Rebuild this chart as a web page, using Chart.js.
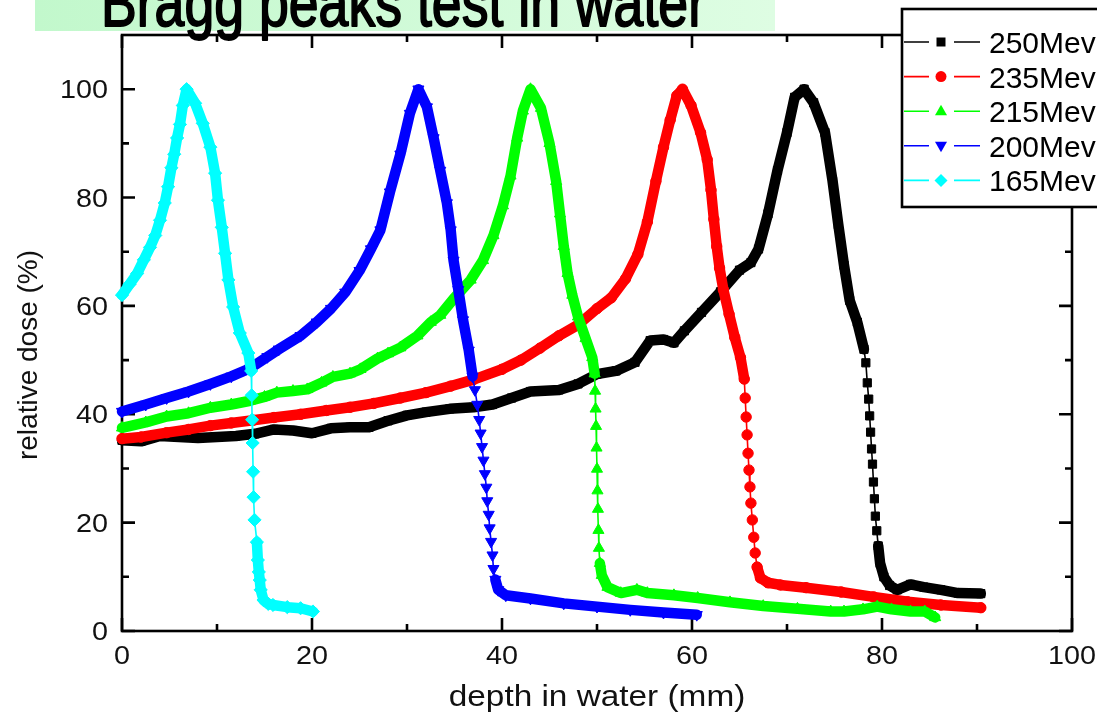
<!DOCTYPE html>
<html>
<head>
<meta charset="utf-8">
<title>Bragg peaks test in water</title>
<script src="https://cdn.jsdelivr.net/npm/chart.js@4/dist/chart.umd.min.js"></script>
<style>
  html, body { margin: 0; padding: 0; background: #fff; overflow: hidden; }
  #wrap { width: 1097px; height: 716px; }
</style>
</head>
<body>
<div id="wrap"><canvas id="c" width="1097" height="716"></canvas></div>
<script>
// Depth-dose curves (depth in mm, relative dose in %)
const depth250 = [0, 2, 4, 6, 8, 10, 12, 14, 16, 18, 20, 22, 24, 26, 28, 30, 32, 34.5, 37, 39,
  41, 43, 46, 48, 50, 52, 54, 55.6, 57, 58.1, 59.2, 61, 63, 65, 66.2, 67, 68, 69, 70, 70.8,
  71.8, 72.8, 74, 74.8, 75.4, 76, 76.6, 77.4, 78.1, 78.3, 78.45, 78.6, 78.7, 78.8, 78.9, 79.0, 79.1, 79.2, 79.3, 79.45,
  79.6, 79.8, 80.2, 80.8, 81.6, 83, 84.4, 86.2, 88, 90.4];
const dose250 = [35.2, 35.0, 36.0, 35.8, 35.6, 35.8, 36.0, 36.4, 37.2, 37.0, 36.5, 37.4, 37.6, 37.6, 38.8, 39.8, 40.4, 41.0, 41.3, 41.8,
  43.0, 44.2, 44.5, 45.6, 47.4, 48.0, 49.6, 53.6, 53.8, 53.2, 55.4, 58.8, 62.6, 66.6, 68.0, 70.5, 77.0, 85.0, 92.0, 98.5,
  100, 97.5, 92.0, 83.0, 75.0, 67.5, 61.0, 57.0, 52.0, 49.5, 45.8, 42.8, 39.7, 36.7, 33.6, 30.8, 27.5, 24.4, 21.2, 18.5,
  15.7, 12.5, 10.0, 8.4, 7.6, 8.6, 8.1, 7.6, 7.0, 6.9];

const depth235 = [0, 2, 4.7, 7, 9.3, 11.5, 13.8, 16, 18.8, 21.5, 24, 26.5, 29.3, 32, 34.6, 37, 40, 42, 44, 46,
  48, 50, 51.5, 53, 54.3, 55.3, 56.2, 57, 57.7, 58.4, 59, 59.9, 60.9, 61.6, 62, 62.3, 62.6, 62.9, 63.3, 63.9,
  64.5, 65.1, 65.5, 65.6, 65.7, 65.8, 65.9, 66.0, 66.1, 66.2, 66.35, 66.5, 66.65, 66.85, 67.2, 68, 69.3, 72, 75.7, 79.1,
  82.7, 86.2, 90.4];
const dose235 = [35.5, 35.8, 36.6, 37.2, 37.9, 38.4, 38.9, 39.4, 40.0, 40.7, 41.3, 42.0, 43.0, 44.0, 45.2, 46.4, 48.3, 50.0, 52.2, 54.5,
  56.5, 59.5, 61.5, 65.0, 69.5, 75.5, 83.0, 89.3, 94.3, 98.8, 100, 97.0, 92.0, 87.0, 81.4, 76.0, 71.0, 67.0, 63.0, 58.5,
  54.2, 50.5, 46.5, 43.0, 39.5, 36.2, 32.8, 29.7, 26.6, 23.6, 20.5, 17.3, 14.4, 11.8, 9.8, 8.9, 8.5, 8.0, 7.2, 6.3,
  5.4, 4.8, 4.3];

const depth215 = [0, 2.5, 4.7, 7, 9.3, 11.5, 13.5, 15, 16.3, 18, 19.5, 21, 22.2, 24, 25.1, 26.9, 28, 29.3, 31.1, 32.5,
  33.5, 34.9, 36.7, 38, 39.1, 40.1, 40.9, 41.6, 42.2, 43, 44.1, 45, 45.7, 46.1, 46.5, 46.9, 47.4, 48, 48.8, 49.5,
  49.75, 49.8, 49.85, 49.9, 49.95, 50.0, 50.05, 50.1, 50.15, 50.2, 50.3, 50.5, 51.1, 52.5, 54.2, 55.3, 58.1, 60.6, 64, 67.5,
  71.1, 74.6, 76, 78, 79.5, 81, 83, 84.5, 85.6];
const dose215 = [37.5, 38.5, 39.6, 40.2, 41.2, 41.8, 42.5, 43.2, 44.0, 44.3, 44.6, 45.8, 46.9, 47.5, 48.3, 50.3, 51.2, 52.3, 54.5, 57.0,
  58.3, 61.3, 64.8, 68.4, 73.0, 78.5, 84.0, 91.0, 96.0, 100, 96.5, 90.0, 83.0, 77.0, 71.0, 66.0, 62.0, 58.0, 54.0, 50.5,
  47.5, 44.3, 41.0, 37.8, 33.8, 29.9, 25.9, 22.5, 18.6, 15.3, 12.5, 10.3, 8.1, 7.0, 7.6, 7.0, 6.6, 6.1, 5.3, 4.6,
  4.1, 3.6, 3.6, 4.0, 4.5, 4.0, 3.6, 3.6, 2.5];

const depth200 = [0, 2.5, 4.7, 7, 9.3, 11.5, 13.5, 15.3, 16.5, 18.8, 20.5, 22, 23.5, 25, 26.2, 27.2, 28.2, 29.3, 30.3, 31.2,
  32.1, 32.8, 33.5, 34.2, 34.6, 34.9, 35.4, 35.9, 36.5, 36.9, 37.15, 37.4, 37.6, 37.75, 37.9, 38.05, 38.2, 38.35, 38.45, 38.6,
  38.7, 38.85, 39.0, 39.1, 39.3, 39.6, 40.4, 43, 46.5, 50, 53.5, 57, 60.5];
const dose200 = [40.5, 41.8, 43.0, 44.2, 45.6, 47.0, 48.5, 50.6, 52.0, 54.5, 57.0, 59.5, 62.5, 66.5, 70.5, 74.0, 81.0, 88.0, 95.5, 100,
  96.7, 91.0, 85.0, 79.0, 74.0, 68.4, 63.0, 57.4, 51.8, 47.0, 44.5, 41.8, 39.0, 36.5, 34.0, 31.5, 29.0, 26.5, 24.0, 21.5,
  19.0, 16.5, 14.0, 11.5, 9.5, 7.6, 6.6, 6.0, 5.1, 4.5, 3.9, 3.4, 3.0];

const depth165 = [0, 0.8, 1.6, 2.3, 2.95, 3.5, 4.0, 4.5, 4.85, 5.2, 5.5, 5.8, 6.1, 6.4, 6.8, 7.7, 8.5, 9.3, 9.8, 10.1,
  10.5, 10.85, 11.2, 11.7, 12.4, 13.3, 13.6, 13.65, 13.7, 13.75, 13.8, 13.85, 13.95, 14.2, 14.3, 14.4, 14.5, 14.6, 14.9, 15.4,
  15.9, 17.4, 18.8, 20.1];
const dose165 = [62, 64, 66, 68.5, 70.8, 73, 75.8, 79, 82, 85.5, 88, 91, 93.5, 97, 100, 97.4, 93.7, 89.3, 84.5, 79.5,
  74.5, 69.7, 64.8, 59.8, 55, 51.3, 48, 43.5, 39, 34.7, 29.4, 24.7, 20.5, 16.4, 13.1, 10.9, 9.4, 7.6, 5.7, 5.0,
  4.8, 4.4, 4.2, 3.6];

const seriesLabels = ['250Mev', '235Mev', '215Mev', '200Mev', '165Mev'];
const xMajorTicks = [0, 20, 40, 60, 80, 100];
const xMinorTicks = [10, 30, 50, 70, 90];
const yMajorTicks = [0, 20, 40, 60, 80, 100];
const yMinorTicks = [10, 30, 50, 70, 90];

const FONT = "'Liberation Sans', Arial, sans-serif";

// Series appearance; "sparse" is the depth range where the scan points are
// far apart, so only a hairline joins the markers there.
const series = [
  { label: seriesLabels[0], depth: depth250, dose: dose250, color: '#000000', style: 'rect', radius: 5.8, rot: 0, sparse: [78.1, 79.6], order: 5 },
  { label: seriesLabels[1], depth: depth235, dose: dose235, color: '#ff0000', style: 'circle', radius: 5.2, rot: 0, sparse: [65.5, 66.85], order: 4 },
  { label: seriesLabels[2], depth: depth215, dose: dose215, color: '#00ff00', style: 'triangle', radius: 6.4, rot: 0, sparse: [49.75, 50.3], order: 3 },
  { label: seriesLabels[3], depth: depth200, dose: dose200, color: '#0000ff', style: 'triangle', radius: 6.4, rot: 180, sparse: [36.9, 39.3], order: 2 },
  { label: seriesLabels[4], depth: depth165, dose: dose165, color: '#00ffff', style: 'rectRot', radius: 6.6, rot: 0, sparse: [13.6, 14.2], order: 1 }
];

function isSparse(c) {
  const s = series[c.datasetIndex];
  const x0 = s.depth[c.p0DataIndex], x1 = s.depth[c.p1DataIndex];
  return x0 >= s.sparse[0] && x1 <= s.sparse[1];
}

const datasets = series.map(s => ({
  label: s.label,
  data: s.depth.map((d, i) => ({ x: d, y: s.dose[i] })),
  borderColor: s.color,
  backgroundColor: s.color,
  borderWidth: 10.5,
  borderJoinStyle: 'round',
  borderCapStyle: 'round',
  tension: 0,
  pointStyle: s.style,
  pointRadius: s.radius,
  pointRotation: s.rot,
  pointBackgroundColor: s.color,
  pointBorderColor: s.color,
  pointBorderWidth: 1,
  order: s.order,
  clip: false,
  segment: { borderWidth: c => (isSparse(c) ? 1.6 : 10.5) }
}));

function stretchedText(ctx, text, x, y, sx, align, strokeW) {
  ctx.save();
  ctx.translate(x, y);
  ctx.scale(sx, 1);
  ctx.textAlign = align;
  ctx.fillText(text, 0, 0);
  if (strokeW) {
    ctx.lineWidth = strokeW;
    ctx.lineJoin = 'round';
    ctx.strokeStyle = ctx.fillStyle;
    ctx.strokeText(text, 0, 0);
  }
  ctx.restore();
}

function legendMarker(ctx, style, rot, x, y) {
  ctx.beginPath();
  if (style === 'rect') {
    ctx.rect(x - 4.5, y - 4.5, 9, 9);
  } else if (style === 'circle') {
    ctx.arc(x, y, 5.5, 0, Math.PI * 2);
  } else if (style === 'triangle' && rot === 0) {
    ctx.moveTo(x, y - 6.5); ctx.lineTo(x + 6, y + 4); ctx.lineTo(x - 6, y + 4);
  } else if (style === 'triangle') {
    ctx.moveTo(x, y + 6.5); ctx.lineTo(x + 6, y - 4); ctx.lineTo(x - 6, y - 4);
  } else {
    ctx.moveTo(x, y - 6.5); ctx.lineTo(x + 6.5, y); ctx.lineTo(x, y + 6.5); ctx.lineTo(x - 6.5, y);
  }
  ctx.closePath();
  ctx.fill();
}

// Boxed frame with inward-pointing ticks on all four sides
const framePlugin = {
  id: 'frame',
  beforeDatasetsDraw(chart) {
    const { ctx, chartArea: a, scales: { x, y } } = chart;
    ctx.save();
    ctx.strokeStyle = '#000';
    ctx.lineWidth = 2.6;
    ctx.strokeRect(a.left, a.top, a.right - a.left, a.bottom - a.top);
    const tick = (vals, len) => {
      vals.forEach(v => {
        const px = x.getPixelForValue(v);
        ctx.beginPath();
        ctx.moveTo(px, a.bottom); ctx.lineTo(px, a.bottom - len);
        ctx.moveTo(px, a.top); ctx.lineTo(px, a.top + len);
        ctx.stroke();
      });
    };
    const tickY = (vals, len) => {
      vals.forEach(v => {
        const py = y.getPixelForValue(v);
        ctx.beginPath();
        ctx.moveTo(a.left, py); ctx.lineTo(a.left + len, py);
        ctx.moveTo(a.right, py); ctx.lineTo(a.right - len, py);
        ctx.stroke();
      });
    };
    tick(xMajorTicks, 13); tick(xMinorTicks, 7);
    tickY(yMajorTicks, 13); tickY(yMinorTicks, 7);
    ctx.restore();
  },
  afterDraw(chart) {
    const { ctx, chartArea: a, scales: { x, y } } = chart;
    ctx.save();
    ctx.fillStyle = '#111';
    ctx.textBaseline = 'alphabetic';
    // tick labels
    ctx.font = '25px ' + FONT;
    yMajorTicks.forEach(v => stretchedText(ctx, String(v), 108, y.getPixelForValue(v) + 9, 1.15, 'right'));
    xMajorTicks.forEach(v => stretchedText(ctx, String(v), x.getPixelForValue(v), 664, 1.15, 'center'));
    // axis titles
    ctx.font = '29px ' + FONT;
    stretchedText(ctx, 'depth in water (mm)', (a.left + a.right) / 2, 706, 1.15, 'center');
    ctx.save();
    ctx.translate(37, 355);
    ctx.rotate(-Math.PI / 2);
    ctx.font = '28px ' + FONT;
    ctx.textAlign = 'center';
    ctx.fillText('relative dose (%)', 0, 0);
    ctx.restore();

    // legend
    ctx.fillStyle = '#fff';
    ctx.fillRect(902, 9, 200, 198);
    ctx.strokeStyle = '#000';
    ctx.lineWidth = 2.6;
    ctx.strokeRect(902, 9, 200, 198);
    ctx.font = '30px ' + FONT;
    ctx.textAlign = 'left';
    series.forEach((s, i) => {
      const ry = 42 + i * 34.6;
      ctx.strokeStyle = s.color;
      ctx.lineWidth = 1.6;
      ctx.beginPath();
      ctx.moveTo(904, ry); ctx.lineTo(929, ry);
      ctx.moveTo(954, ry); ctx.lineTo(980, ry);
      ctx.stroke();
      ctx.fillStyle = s.color;
      legendMarker(ctx, s.style, s.rot, 941, ry);
      ctx.fillStyle = '#000';
      ctx.fillText(s.label, 989, ry + 11);
    });

    // headline banner, condensed to the banner's text width
    const g = ctx.createLinearGradient(35, 0, 775, 0);
    g.addColorStop(0, '#c2f8cc');
    g.addColorStop(1, '#defde3');
    ctx.fillStyle = g;
    ctx.fillRect(35, 0, 740, 31);
    ctx.fillStyle = '#000';
    ctx.font = "66px 'Liberation Sans Narrow', 'Liberation Sans', Arial, sans-serif";
    const headline = 'Bragg peaks test in water';
    const w = ctx.measureText(headline).width;
    stretchedText(ctx, headline, 101, 26, 605 / w, 'left', 1.8);
    ctx.restore();
  }
};

new Chart(document.getElementById('c'), {
  type: 'line',
  data: { datasets },
  options: {
    responsive: false,
    animation: false,
    devicePixelRatio: 1,
    events: [],
    layout: { padding: { top: 35, right: 25, left: 0, bottom: 0 } },
    plugins: { legend: { display: false }, tooltip: { enabled: false }, title: { display: false } },
    scales: {
      x: {
        type: 'linear', min: 0, max: 100,
        grid: { display: false }, border: { display: false },
        ticks: { display: false },
        afterFit: s => { s.height = 85; }
      },
      y: {
        type: 'linear', min: 0, max: 110,
        grid: { display: false }, border: { display: false },
        ticks: { display: false },
        afterFit: s => { s.width = 122; }
      }
    }
  },
  plugins: [framePlugin]
});
</script>
</body>
</html>
